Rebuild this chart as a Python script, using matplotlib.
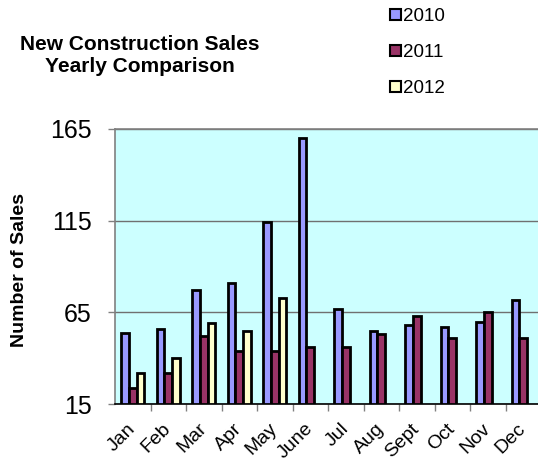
import matplotlib
matplotlib.use("Agg")
import matplotlib.pyplot as plt
import numpy as np
from matplotlib.patches import Patch

# ===== DATA =====
MONTHS = ["Jan", "Feb", "Mar", "Apr", "May", "June", "Jul", "Aug", "Sept", "Oct", "Nov", "Dec"]
SALES_2010 = [54, 56, 77, 81, 114, 160, 67, 55, 58, 57, 60, 72]
SALES_2011 = [24, 32, 52, 44, 44, 46, 46, 53, 63, 51, 65, 51]
SALES_2012 = [32, 40, 59, 55, 73, np.nan, np.nan, np.nan, np.nan, np.nan, np.nan, np.nan]
YEARS = ["2010", "2011", "2012"]
Y_TICKS = [15, 65, 115, 165]

COLORS = ["#9999FF", "#993366", "#FFFFCC"]
BG = "#CCFFFF"
W = 0.22

plt.rcParams["font.family"] = ["Liberation Sans", "DejaVu Sans"]

fig = plt.figure(figsize=(5.38, 4.61), dpi=100)
ax = fig.add_axes([115 / 538, 57 / 461, 426 / 538, 275 / 461])
ax.set_facecolor(BG)

x = np.arange(len(MONTHS))
for k, (vals, col) in enumerate(zip([SALES_2010, SALES_2011, SALES_2012], COLORS)):
    ax.bar(x + (k - 1) * W, np.array(vals, float) - 15, W, bottom=15,
           color=col, edgecolor="black", linewidth=2.0, zorder=3)

ax.set_xlim(-0.5, len(MONTHS) - 0.5)
ax.set_ylim(15, 165)
ax.set_yticks(Y_TICKS)
ax.set_yticklabels([str(v) for v in Y_TICKS], fontsize=18)
ax.yaxis.grid(True, color="#707070", lw=1.0, zorder=1)
ax.tick_params(axis="y", length=5, width=1, color="#808080", pad=12)

# ticks between the categories, labels at the category centres
ax.set_xticks(x + 0.5)
ax.set_xticklabels([])
ax.set_xticks(x, minor=True)
ax.set_xticklabels(MONTHS, minor=True, rotation=45, ha="right", va="center",
                   rotation_mode="anchor", fontsize=14)
ax.tick_params(axis="x", which="major", length=5, width=1, color="#808080")
ax.tick_params(axis="x", which="minor", length=0, pad=16)

for s in ["left", "top"]:
    ax.spines[s].set_color("#808080")
    ax.spines[s].set_linewidth(1.2)
ax.spines["bottom"].set_color("black")
ax.spines["bottom"].set_linewidth(1.2)
ax.spines["right"].set_visible(False)

fig.text(20 / 538, 1 - 270 / 461, "Number of Sales", rotation=90, ha="center", va="center",
         fontsize=14, fontweight="bold")
fig.text(140 / 538, 1 - 55 / 461, "New Construction Sales\nYearly Comparison", ha="center",
         va="center", fontsize=15, fontweight="bold", linespacing=1.2)

handles = [Patch(facecolor=c, edgecolor="black", linewidth=1.5) for c in COLORS]
fig.legend(handles, YEARS, loc="upper left", bbox_to_anchor=(381 / 538, 1 + 1 / 461),
           frameon=False, fontsize=13.5, handlelength=0.55, handleheight=0.55,
           handletextpad=0.15, labelspacing=1.0, borderpad=0)

fig.savefig("out.png", dpi=100)
